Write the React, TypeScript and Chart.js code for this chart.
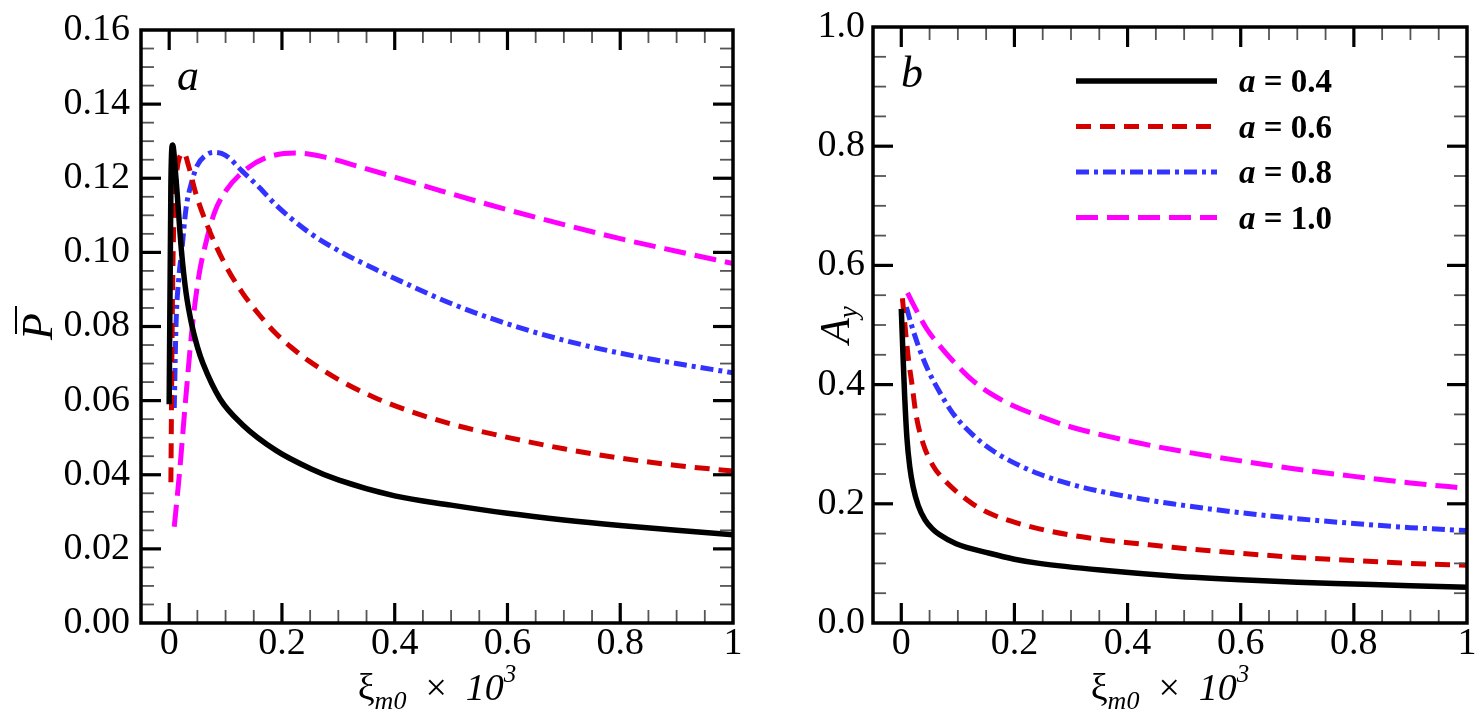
import { useEffect, useRef } from "react"
import { Chart, registerables } from "chart.js"
import type { ChartDataset, Plugin } from "chart.js"

Chart.register(...registerables)

const FONT = "'Liberation Serif', 'Times New Roman', serif"

// horizontal axis (both panels): xi_m0 x 10^3
const xTickValues = [0, 0.2, 0.4, 0.6, 0.8, 1]
const pTickValues = [0, 0.02, 0.04, 0.06, 0.08, 0.1, 0.12, 0.14, 0.16]
const aTickValues = [0, 0.2, 0.4, 0.6, 0.8, 1]
const aValues = ["0.4", "0.6", "0.8", "1.0"]

// panel a : P-bar
const pX04 = [0, 0.003, 0.006, 0.012, 0.022, 0.03, 0.04, 0.05, 0.06, 0.09, 0.13, 0.19, 0.25, 0.3, 0.4, 0.5, 0.6, 0.7, 0.8, 0.9, 1.0]
const pY04 = [0.059, 0.118, 0.129, 0.12, 0.1, 0.089, 0.0805, 0.0745, 0.07, 0.0605, 0.0535, 0.0465, 0.0417, 0.0386, 0.0343, 0.0318, 0.0296, 0.0278, 0.0263, 0.025, 0.0238]

const pX06 = [0.003, 0.005, 0.007, 0.012, 0.018, 0.026, 0.035, 0.047, 0.071, 0.1, 0.129, 0.159, 0.188, 0.218, 0.247, 0.306, 0.365, 0.424, 0.5, 0.6, 0.7, 0.8, 0.9, 1.0]
const pY06 = [0.038, 0.075, 0.1, 0.119, 0.1255, 0.1268, 0.123, 0.116, 0.106, 0.0965, 0.0893, 0.0833, 0.0783, 0.0742, 0.0708, 0.0652, 0.0608, 0.0573, 0.0537, 0.0501, 0.047, 0.0445, 0.0425, 0.041]

const pX08 = [0.009, 0.012, 0.017, 0.022, 0.03, 0.04, 0.05, 0.065, 0.079, 0.1, 0.129, 0.16, 0.188, 0.247, 0.306, 0.365, 0.424, 0.5, 0.6, 0.7, 0.8, 0.9, 1.0]
const pY08 = [0.058, 0.08, 0.093, 0.1, 0.112, 0.119, 0.1235, 0.1262, 0.127, 0.1262, 0.122, 0.1175, 0.113, 0.1055, 0.1, 0.0955, 0.0913, 0.0862, 0.0807, 0.0763, 0.0728, 0.07, 0.0675]

const pX10 = [0.009, 0.018, 0.029, 0.041, 0.053, 0.065, 0.08, 0.1, 0.129, 0.171, 0.224, 0.276, 0.335, 0.394, 0.482, 0.6, 0.7, 0.8, 0.9, 1.0]
const pY10 = [0.026, 0.04, 0.06, 0.08, 0.094, 0.1025, 0.1106, 0.1165, 0.1215, 0.1255, 0.1268, 0.1257, 0.1232, 0.1206, 0.1166, 0.1115, 0.1075, 0.1037, 0.1003, 0.097]

// panel b : A_y
const aX04 = [0, 0.003, 0.006, 0.01, 0.015, 0.021, 0.03, 0.042, 0.055, 0.068, 0.097, 0.156, 0.2, 0.244, 0.362, 0.479, 0.6, 0.7, 0.8, 0.9, 1.0]
const aY04 = [0.527, 0.45, 0.38, 0.31, 0.262, 0.228, 0.197, 0.173, 0.158, 0.148, 0.133, 0.117, 0.107, 0.1, 0.088, 0.079, 0.0725, 0.0685, 0.0655, 0.0625, 0.06]

const aX06 = [0.002, 0.005, 0.009, 0.013, 0.019, 0.026, 0.038, 0.056, 0.074, 0.097, 0.126, 0.156, 0.197, 0.244, 0.303, 0.362, 0.42, 0.479, 0.6, 0.7, 0.8, 0.9, 1.0]
const aY06 = [0.545, 0.515, 0.475, 0.44, 0.4, 0.35, 0.303, 0.264, 0.242, 0.221, 0.2, 0.184, 0.17, 0.158, 0.147, 0.139, 0.133, 0.127, 0.117, 0.11, 0.105, 0.1, 0.097]

const aX08 = [0.009, 0.018, 0.032, 0.047, 0.068, 0.091, 0.126, 0.162, 0.203, 0.244, 0.303, 0.362, 0.42, 0.479, 0.6, 0.7, 0.8, 0.9, 1.0]
const aY08 = [0.53, 0.5, 0.46, 0.425, 0.387, 0.352, 0.316, 0.289, 0.267, 0.25, 0.232, 0.219, 0.209, 0.2, 0.185, 0.175, 0.167, 0.16, 0.155]

const aX10 = [0.011, 0.021, 0.044, 0.068, 0.097, 0.126, 0.156, 0.197, 0.244, 0.303, 0.362, 0.42, 0.479, 0.6, 0.7, 0.8, 0.9, 1.0]
const aY10 = [0.554, 0.535, 0.495, 0.465, 0.434, 0.407, 0.386, 0.365, 0.347, 0.328, 0.314, 0.302, 0.291, 0.272, 0.258, 0.246, 0.235, 0.226]

const seriesStyle = [
  { color: "#000000", dash: [] as number[], width: 5.5 },
  { color: "#d40000", dash: [15, 9], width: 5 },
  { color: "#3333ff", dash: [13, 5, 4, 5], width: 5 },
  { color: "#ff00ff", dash: [22, 9], width: 5 },
]

function makeDatasets(xs: number[][], ys: number[][]): ChartDataset<"line">[] {
  return xs.map((col, i) => ({
    label: "a = " + aValues[i],
    data: col.map((x, j) => ({ x, y: ys[i][j] })),
    borderColor: seriesStyle[i].color,
    borderDash: seriesStyle[i].dash,
    borderWidth: seriesStyle[i].width,
    pointRadius: 0,
    fill: false,
    cubicInterpolationMode: "monotone",
  })) as ChartDataset<"line">[]
}

type Run = { text: string; font: string; dy?: number }

function drawRuns(ctx: CanvasRenderingContext2D, parts: Run[], x: number, y: number, center: boolean) {
  ctx.textAlign = "left"
  ctx.textBaseline = "alphabetic"
  let w = 0
  parts.forEach((p) => {
    ctx.font = p.font
    w += ctx.measureText(p.text).width
  })
  let cx = center ? x - w / 2 : x
  parts.forEach((p) => {
    ctx.font = p.font
    ctx.fillText(p.text, cx, y + (p.dy || 0))
    cx += ctx.measureText(p.text).width
  })
}

const xTitle: Run[] = [
  { text: "ξ", font: `38px ${FONT}` },
  { text: "m0", font: `italic 26px ${FONT}`, dy: 9 },
  { text: "  ×  ", font: `38px ${FONT}` },
  { text: "10", font: `italic 38px ${FONT}` },
  { text: "3", font: `italic 25px ${FONT}`, dy: -18 },
]

// inward ticks on all four sides plus the frame
function frameTicks(xMinor: number, yMinor: number): Plugin<"line"> {
  return {
    id: "frameTicks",
    afterDatasetsDraw(chart) {
      const { ctx, chartArea } = chart
      const { left, right, top, bottom } = chartArea
      const sx = chart.scales.x
      const sy = chart.scales.y
      const xMajor = sx.ticks.map((t) => t.value)
      const yMajor = sy.ticks.map((t) => t.value)
      const isMajor = (v: number, list: number[]) => list.some((t) => Math.abs(t - v) < 1e-9)
      ctx.save()
      const line = (x1: number, y1: number, x2: number, y2: number) => {
        ctx.beginPath()
        ctx.moveTo(x1, y1)
        ctx.lineTo(x2, y2)
        ctx.stroke()
      }
      for (let i = Math.ceil(sx.min / xMinor - 1e-9); i * xMinor <= sx.max + 1e-9; i++) {
        const v = i * xMinor
        const px = sx.getPixelForValue(v)
        if (px < left + 2 || px > right - 2) continue
        const major = isMajor(v, xMajor)
        const len = major ? 20 : 13
        ctx.lineWidth = major ? 3.2 : 1.8
        ctx.strokeStyle = major ? "#000" : "#555"
        line(px, bottom, px, bottom - len)
        line(px, top, px, top + len)
      }
      for (let i = Math.ceil(sy.min / yMinor - 1e-9); i * yMinor <= sy.max + 1e-9; i++) {
        const v = i * yMinor
        const py = sy.getPixelForValue(v)
        if (py < top + 2 || py > bottom - 2) continue
        const major = isMajor(v, yMajor)
        const len = major ? 20 : 13
        ctx.lineWidth = major ? 3.2 : 1.8
        ctx.strokeStyle = major ? "#000" : "#555"
        line(left, py, left + len, py)
        line(right, py, right - len, py)
      }
      ctx.lineWidth = 3.5
      ctx.strokeStyle = "#000"
      ctx.strokeRect(left, top, right - left, bottom - top)
      ctx.restore()
    },
  }
}

const panelADecor: Plugin<"line"> = {
  id: "panelADecor",
  afterDraw(chart) {
    const { ctx, chartArea } = chart
    const { left, right, top, bottom } = chartArea
    ctx.save()
    ctx.fillStyle = "#000"
    ctx.strokeStyle = "#000"
    drawRuns(ctx, [{ text: "a", font: `italic 44px ${FONT}` }], left + 36, top + 60, false)
    drawRuns(ctx, xTitle, (left + right) / 2, bottom + 77, true)
    ctx.translate(left - 104, (top + bottom) / 2)
    ctx.rotate(-Math.PI / 2)
    ctx.font = `italic 44px ${FONT}`
    const w = ctx.measureText("P").width
    ctx.textAlign = "center"
    ctx.fillText("P", 0, 15)
    ctx.lineWidth = 2
    ctx.beginPath()
    ctx.moveTo(-w / 2 + 6, -21)
    ctx.lineTo(w / 2 + 7, -21)
    ctx.stroke()
    ctx.restore()
  },
}

const panelBDecor: Plugin<"line"> = {
  id: "panelBDecor",
  afterDraw(chart) {
    const { ctx, chartArea } = chart
    const { left, right, top, bottom } = chartArea
    ctx.save()
    ctx.fillStyle = "#000"
    drawRuns(ctx, [{ text: "b", font: `italic 44px ${FONT}` }], left + 28, top + 60, false)
    drawRuns(ctx, xTitle, (left + right) / 2, bottom + 77, true)

    // legend
    seriesStyle.forEach((st, i) => {
      const y = top + 54 + i * 45.5
      ctx.save()
      ctx.strokeStyle = st.color
      ctx.lineWidth = st.width
      ctx.setLineDash(st.dash)
      ctx.beginPath()
      ctx.moveTo(left + 203, y)
      ctx.lineTo(left + 344, y)
      ctx.stroke()
      ctx.restore()
      drawRuns(
        ctx,
        [
          { text: "a", font: `italic bold 33px ${FONT}` },
          { text: " = " + aValues[i], font: `bold 33px ${FONT}` },
        ],
        left + 366,
        y + 11,
        false,
      )
    })

    ctx.translate(left - 38, (top + bottom) / 2)
    ctx.rotate(-Math.PI / 2)
    drawRuns(
      ctx,
      [
        { text: "A", font: `italic 42px ${FONT}` },
        { text: "y", font: `italic 27px ${FONT}`, dy: 8 },
      ],
      0,
      14,
      true,
    )
    ctx.restore()
  },
}

interface PanelProps {
  left: number
  width: number
  datasets: ChartDataset<"line">[]
  yMax: number
  yTicks: number[]
  yMinor: number
  yDigits: number
  yAxisWidth: number
  yLabelPad: number
  rightPad: number
  decor: Plugin<"line">
}

function Panel({ left, width, datasets, yMax, yTicks, yMinor, yDigits, yAxisWidth, yLabelPad, rightPad, decor }: PanelProps) {
  const chartRef = useRef<HTMLCanvasElement>(null)

  useEffect(() => {
    if (!chartRef.current) return
    const chart = new Chart(chartRef.current, {
      type: "line",
      data: { datasets },
      plugins: [frameTicks(0.05, yMinor), decor],
      options: {
        animation: false,
        responsive: true,
        maintainAspectRatio: false,
        events: [],
        layout: { padding: { top: 21, right: rightPad, left: 0, bottom: 0 } },
        plugins: { legend: { display: false }, tooltip: { enabled: false } },
        scales: {
          x: {
            type: "linear",
            min: -0.05,
            max: 1,
            grid: { display: false, drawTicks: false },
            border: { display: false },
            afterBuildTicks: (axis) => {
              axis.ticks = xTickValues.map((value) => ({ value }))
            },
            afterFit: (axis) => {
              axis.height = 98
            },
            ticks: {
              padding: 0,
              color: "#000",
              font: { family: FONT, size: 38, lineHeight: 1.1 },
              callback: (v) => String(Number(v)),
              maxRotation: 0,
            },
          },
          y: {
            type: "linear",
            min: 0,
            max: yMax,
            grid: { display: false, drawTicks: false },
            border: { display: false },
            afterBuildTicks: (axis) => {
              axis.ticks = yTicks.map((value) => ({ value }))
            },
            afterFit: (axis) => {
              axis.width = yAxisWidth
            },
            ticks: {
              padding: yLabelPad,
              color: "#000",
              font: { family: FONT, size: 38, lineHeight: 1 },
              callback: (v) => Number(v).toFixed(yDigits),
            },
          },
        },
      },
    })
    return () => chart.destroy()
  }, [datasets, yMax, yTicks, yMinor, yDigits, yAxisWidth, yLabelPad, rightPad, decor])

  return (
    <div style={{ position: "absolute", left, top: 0, width, height: 721 }}>
      <canvas ref={chartRef}></canvas>
    </div>
  )
}

const pDatasets = makeDatasets([pX04, pX06, pX08, pX10], [pY04, pY06, pY08, pY10])
const aDatasets = makeDatasets([aX04, aX06, aX08, aX10], [aY04, aY06, aY08, aY10])

export default function App() {
  return (
    <div style={{ position: "fixed", left: 0, top: 0, width: 1479, height: 721, background: "#fff", overflow: "hidden" }}>
      <Panel
        left={0}
        width={760}
        datasets={pDatasets}
        yMax={0.16}
        yTicks={pTickValues}
        yMinor={0.005}
        yDigits={2}
        yAxisWidth={141}
        yLabelPad={11}
        rightPad={27}
        decor={panelADecor}
      />
      <Panel
        left={760}
        width={719}
        datasets={aDatasets}
        yMax={1}
        yTicks={aTickValues}
        yMinor={0.05}
        yDigits={1}
        yAxisWidth={113}
        yLabelPad={8}
        rightPad={12}
        decor={panelBDecor}
      />
    </div>
  )
}
